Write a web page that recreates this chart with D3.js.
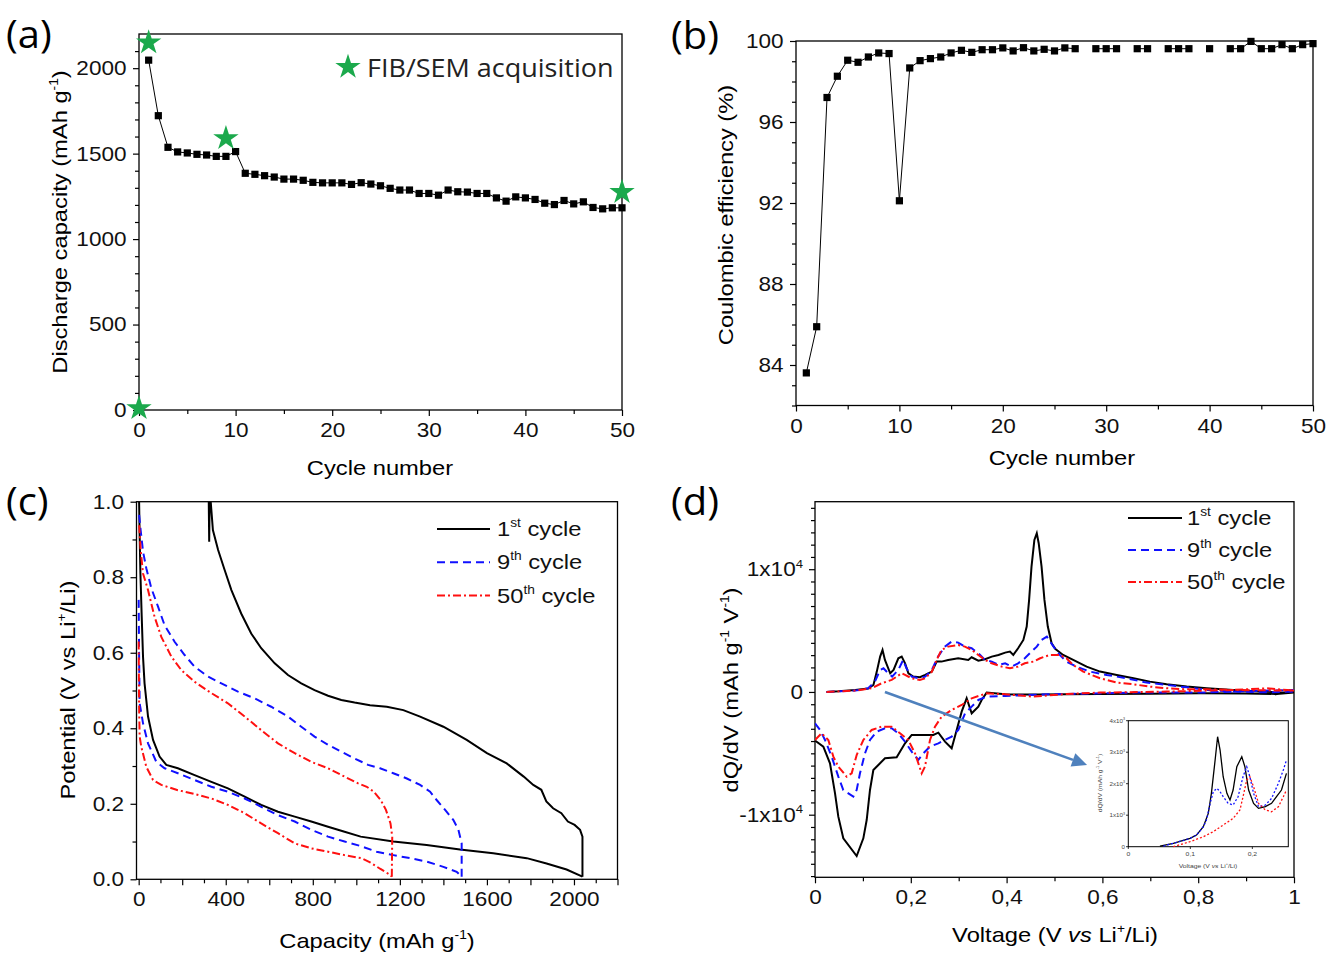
<!DOCTYPE html>
<html><head><meta charset="utf-8">
<script src="https://cdn.jsdelivr.net/npm/d3@7"></script>
<style>body{margin:0;background:#fff}</style>
</head><body>
<svg id="chart" width="1327" height="954"></svg>
<script>
// ---------------- DATA ----------------
// (a) discharge capacity vs cycle
const cyclesA = [1,2,3,4,5,6,7,8,9,10,11,12,13,14,15,16,17,18,19,20,21,22,23,24,25,26,27,28,29,30,31,32,33,34,35,36,37,38,39,40,41,42,43,44,45,46,47,48,49,50];
const capacityA = [2047,1722,1537,1510,1504,1496,1492,1484,1484,1512,1385,1379,1371,1363,1351,1351,1344,1332,1329,1329,1329,1320,1330,1322,1312,1297,1287,1287,1267,1267,1257,1287,1277,1275,1267,1267,1241,1222,1247,1241,1232,1210,1202,1226,1206,1218,1185,1177,1183,1183];
const starCycles = [0,1,9,50];
const starCapacity = [10,2150,1590,1275];
// (b) coulombic efficiency
const cyclesB = cyclesA;
const ceB = [83.61,85.89,97.21,98.26,99.05,98.95,99.21,99.41,99.38,92.11,98.67,99.03,99.13,99.21,99.41,99.54,99.44,99.57,99.57,99.66,99.51,99.67,99.51,99.59,99.51,99.66,99.62,null,99.62,99.62,99.62,null,99.62,99.62,null,99.62,99.62,99.62,null,99.62,null,99.62,99.62,99.98,99.62,99.62,99.82,99.62,99.82,99.87];
// (c) voltage profiles [capacity, potential]
const c1Discharge = [[2,1.0],[4,0.925],[8,0.81],[14,0.695],[20,0.589],[27,0.519],[43,0.431],[66,0.369],[96,0.325],[127,0.303],[180,0.294],[257,0.276],[334,0.258],[410,0.241],[487,0.219],[563,0.197],[640,0.179],[717,0.166],[793,0.153],[870,0.139],[946,0.126],[1020,0.113],[1170,0.100],[1323,0.091],[1476,0.079],[1629,0.069],[1783,0.056],[1874,0.042],[1966,0.026],[2039,0.007]];
const c1Charge = [[2039,0.007],[2039,0.113],[2028,0.131],[2003,0.144],[1972,0.153],[1942,0.175],[1904,0.188],[1873,0.206],[1850,0.237],[1813,0.25],[1769,0.272],[1691,0.307],[1600,0.334],[1507,0.369],[1400,0.404],[1293,0.431],[1216,0.448],[1140,0.457],[1063,0.461],[992,0.468],[931,0.475],[870,0.486],[808,0.501],[747,0.519],[686,0.541],[625,0.572],[563,0.612],[517,0.651],[471,0.704],[426,0.766],[395,0.819],[365,0.872],[341,0.925],[331,1.0],[326,1.0],[324,0.894],[322,1.0]];
const c9Discharge = [[0,0.74],[2,0.59],[4.5,0.466],[20,0.413],[43,0.36],[81,0.311],[119,0.294],[180,0.281],[257,0.263],[334,0.245],[410,0.232],[487,0.214],[563,0.192],[640,0.17],[717,0.153],[793,0.131],[870,0.113],[946,0.1],[1020,0.088],[1093,0.073],[1170,0.064],[1246,0.056],[1323,0.047],[1400,0.033],[1461,0.02],[1484,0.007]];
const c9Charge = [[1484,0.007],[1484,0.095],[1469,0.131],[1446,0.157],[1408,0.184],[1369,0.21],[1339,0.232],[1293,0.25],[1232,0.267],[1170,0.281],[1109,0.294],[1054,0.303],[992,0.32],[931,0.338],[870,0.356],[808,0.378],[747,0.404],[686,0.431],[609,0.457],[533,0.479],[456,0.497],[380,0.519],[318,0.537],[257,0.563],[211,0.594],[165,0.629],[119,0.673],[89,0.722],[58,0.771],[35,0.824],[20,0.868],[9,0.925],[2,0.965]];
const c50Discharge = [[0,0.63],[2,0.457],[4.5,0.378],[12,0.351],[35,0.298],[66,0.263],[104,0.25],[180,0.236],[257,0.226],[334,0.214],[410,0.197],[487,0.175],[563,0.148],[640,0.122],[717,0.095],[793,0.082],[870,0.073],[946,0.064],[1023,0.056],[1063,0.045],[1109,0.028],[1155,0.012],[1163,0.007]];
const c50Charge = [[1163,0.007],[1165,0.113],[1157,0.148],[1136,0.184],[1112,0.21],[1080,0.232],[1048,0.245],[1008,0.254],[946,0.272],[870,0.294],[793,0.311],[717,0.334],[640,0.36],[563,0.395],[487,0.431],[410,0.466],[334,0.493],[257,0.523],[196,0.554],[150,0.59],[104,0.642],[73,0.695],[43,0.766],[20,0.81],[9,0.872],[2,0.94]];
// (d) dQ/dV [voltage, dQ/dV]
const d1Pos = [[0.024,0],[0.049,54],[0.084,163],[0.111,272],[0.122,571],[0.129,1658],[0.136,2880],[0.141,3423],[0.146,2608],[0.157,1521],[0.164,1793],[0.174,2744],[0.181,2880],[0.188,2336],[0.195,1521],[0.205,1250],[0.219,1195],[0.230,1386],[0.244,1658],[0.254,2472],[0.264,2472],[0.278,2608],[0.299,2744],[0.320,2608],[0.327,2825],[0.341,2554],[0.355,2662],[0.369,2880],[0.383,3016],[0.397,3206],[0.407,3287],[0.414,3016],[0.424,3559],[0.435,4238],[0.442,5325],[0.447,7498],[0.452,10215],[0.458,12388],[0.463,12931],[0.467,12116],[0.473,10215],[0.479,7498],[0.486,5325],[0.494,3966],[0.502,3500],[0.518,3016],[0.539,2608],[0.567,2064],[0.595,1658],[0.630,1386],[0.665,1114],[0.699,842],[0.734,624],[0.776,435],[0.818,299],[0.873,163],[0.929,27],[0.955,0],[0.962,-200],[0.968,-60],[1.0,0]];
const d1Neg = [[0,-3966],[0.0174,-4455],[0.0313,-5813],[0.0418,-8259],[0.0487,-10160],[0.0591,-11926],[0.087,-13366],[0.1009,-11926],[0.1079,-10432],[0.1148,-7987],[0.1218,-6357],[0.1322,-5950],[0.1461,-5406],[0.1705,-5325],[0.1879,-4184],[0.2018,-3504],[0.247,-3504],[0.2575,-3314],[0.2714,-4048],[0.2853,-4591],[0.2958,-3097],[0.3062,-1603],[0.3166,-516],[0.3271,-1739],[0.341,-1196],[0.3479,-652],[0.3584,-54],[0.397,-190],[0.466,-217],[0.525,-190],[0.595,-163],[0.70,-140],[0.804,-109],[0.90,-130],[0.964,-163],[1.0,-54]];
const d9Pos = [[0.024,0],[0.084,109],[0.111,299],[0.125,842],[0.136,1793],[0.143,1929],[0.153,1521],[0.161,1250],[0.174,1793],[0.184,2608],[0.191,1929],[0.202,1250],[0.216,1114],[0.230,1250],[0.244,1793],[0.257,2880],[0.271,3695],[0.285,4102],[0.299,4021],[0.313,3695],[0.327,3559],[0.341,3152],[0.355,2608],[0.369,2472],[0.383,2200],[0.397,2336],[0.411,2064],[0.424,2336],[0.438,2744],[0.452,3287],[0.463,3695],[0.473,4238],[0.484,4510],[0.498,3695],[0.511,3016],[0.525,2472],[0.546,2064],[0.574,1657],[0.609,1386],[0.651,1114],[0.692,761],[0.734,571],[0.776,380],[0.818,163],[0.873,27],[0.943,-27],[1.0,27]];
const d9Neg = [[0,-2553],[0.0104,-3097],[0.0209,-3912],[0.0348,-5270],[0.0487,-6900],[0.0591,-7987],[0.0696,-8259],[0.08,-8530],[0.087,-7987],[0.0939,-6629],[0.1044,-4999],[0.1148,-3912],[0.1287,-3233],[0.1461,-2961],[0.1601,-2961],[0.174,-3369],[0.1879,-4048],[0.2018,-4863],[0.2157,-5542],[0.2262,-4999],[0.2401,-4455],[0.2575,-4184],[0.2714,-3912],[0.2853,-3640],[0.2992,-3097],[0.3132,-1739],[0.3271,-1196],[0.341,-652],[0.3584,-380],[0.397,-326],[0.466,-217],[0.525,-163],[0.665,-54],[0.804,-54],[1.0,163]];
const d50Pos = [[0.024,0],[0.084,109],[0.118,299],[0.139,706],[0.160,978],[0.181,1521],[0.188,1386],[0.202,1114],[0.219,978],[0.230,1114],[0.244,1657],[0.254,2608],[0.264,3423],[0.278,3695],[0.299,3830],[0.313,3695],[0.327,3423],[0.341,3016],[0.355,2608],[0.369,2336],[0.390,2064],[0.407,1929],[0.424,2064],[0.438,2336],[0.456,2472],[0.470,2744],[0.490,3016],[0.511,3016],[0.525,2744],[0.539,2200],[0.560,1657],[0.595,1114],[0.630,761],[0.665,624],[0.699,435],[0.734,299],[0.776,217],[0.818,217],[0.873,163],[0.943,299],[1.0,109]];
const d50Neg = [[0,-3912],[0.0139,-3369],[0.0278,-3912],[0.0383,-5270],[0.0487,-6085],[0.0661,-6900],[0.0766,-6629],[0.087,-5135],[0.1009,-3912],[0.1183,-3097],[0.1392,-2825],[0.1601,-2825],[0.1775,-3369],[0.1948,-3912],[0.2088,-4999],[0.2227,-6629],[0.2296,-6085],[0.2401,-3912],[0.2505,-2825],[0.2644,-2010],[0.2853,-1467],[0.3062,-1060],[0.3271,-516],[0.3584,-109],[0.397,-190],[0.456,-380],[0.525,-163],[0.595,-54],[0.734,27],[0.873,163],[1.0,109]];
// (d) inset
const inset1 = [[0.051,21],[0.0726,106],[0.0995,265],[0.110,370],[0.121,635],[0.129,1058],[0.134,1693],[0.140,2751],[0.144,3492],[0.148,3069],[0.153,2222],[0.159,1693],[0.164,1481],[0.169,1799],[0.175,2540],[0.183,2857],[0.188,2540],[0.194,1799],[0.202,1376],[0.210,1217],[0.221,1270],[0.231,1376],[0.239,1587],[0.247,1799],[0.255,2328]];
const inset9 = [[0.0565,21],[0.0726,106],[0.0995,265],[0.110,370],[0.121,635],[0.126,847],[0.132,1376],[0.137,1746],[0.143,1852],[0.148,1746],[0.153,1587],[0.161,1376],[0.169,1323],[0.177,1587],[0.185,2222],[0.191,2540],[0.196,2222],[0.202,1693],[0.210,1270],[0.221,1323],[0.231,1534],[0.242,2011],[0.250,2434],[0.255,2751]];
const inset50 = [[0.0726,0],[0.0995,159],[0.121,317],[0.137,476],[0.153,688],[0.169,899],[0.180,1164],[0.185,1587],[0.191,2116],[0.196,2222],[0.202,1905],[0.210,1376],[0.221,1164],[0.231,1111],[0.242,1270],[0.250,1587],[0.255,1799]];
const arrowFrom = [0.146, 0];
const arrowTo = [0.568, -5950];
// tick values
const ticksA_x = [0,10,20,30,40,50], ticksA_y = [0,500,1000,1500,2000];
const ticksB_y = [84,88,92,96,100];
const ticksC_x = [0,400,800,1200,1600,2000], ticksC_y = [0,0.2,0.4,0.6,0.8,1.0];
const ticksD_x = [0,0.2,0.4,0.6,0.8,1], ticksD_xLabels = ['0','0,2','0,4','0,6','0,8','1'];
const legendLabels = [['1','st'],['9','th'],['50','th']];

// ---------------- DRAWING ----------------
const svg = d3.select('#chart');
svg.append('rect').attr('width',1327).attr('height',954).attr('fill','#fff');
const FONT = '"Liberation Sans", Arial, sans-serif';
const PFONT = '"Open Sans", "Noto Sans", sans-serif';
const SX = 1.13;

function rich(g, x, y, parts, o = {}) {
  const size = o.size || 21, rot = o.rot || 0, sx = o.sx || SX;
  const t = g.append('text')
    .attr('transform', `translate(${x},${y}) rotate(${rot}) scale(${sx},1)`)
    .attr('text-anchor', o.anchor || 'middle')
    .attr('font-family', o.font || FONT)
    .attr('font-size', size).attr('fill', o.fill || '#000');
  if (typeof parts === 'string') parts = [{t: parts}];
  let shift = 0;
  parts.forEach(p => {
    const ts = t.append('tspan').text(p.t);
    let target = 0, fs = size;
    if (p.sup) { fs = size * 0.58; target = -size * 0.42; }
    ts.attr('font-size', fs);
    if (p.it) ts.attr('font-style', 'italic');
    if (target !== shift) { ts.attr('dy', target - shift); shift = target; }
  });
  return t;
}

function axes(g, xs, ys, c) {
  const [x0, x1] = xs.range(), [yb, yt] = ys.range();
  const style = s => {
    s.select('.domain').remove();
    s.selectAll('line').attr('stroke', '#000').attr('stroke-width', 1.2);
    s.selectAll('text').attr('font-family', FONT).attr('font-size', c.fs || 20).attr('fill', '#111')
      .attr('transform', `scale(${SX},1)`);
  };
  g.append('g').attr('transform', `translate(0,${yb})`)
    .call(d3.axisBottom(xs).tickValues(c.xMinor).tickSize(4).tickFormat('')).call(style);
  g.append('g').attr('transform', `translate(0,${yb})`)
    .call(d3.axisBottom(xs).tickValues(c.xMajor).tickSize(6).tickPadding(c.xPad || 7).tickFormat(c.xFmt || (d => d))).call(style);
  g.append('g').attr('transform', `translate(${x0},0)`)
    .call(d3.axisLeft(ys).tickValues(c.yMinor).tickSize(4).tickFormat('')).call(style);
  g.append('g').attr('transform', `translate(${x0},0)`)
    .call(d3.axisLeft(ys).tickValues(c.yMajor).tickSize(6).tickPadding(c.yPad || 5).tickFormat(c.yFmt || (d => d))).call(style);
  g.append('rect').attr('x', x0).attr('y', yt).attr('width', x1 - x0).attr('height', yb - yt)
    .attr('fill', 'none').attr('stroke', '#000').attr('stroke-width', 1.3);
}

function clip(id, xs, ys) {
  const [x0, x1] = xs.range(), [yb, yt] = ys.range();
  svg.append('clipPath').attr('id', id).append('rect')
    .attr('x', x0).attr('y', yt).attr('width', x1 - x0).attr('height', yb - yt);
}

// panel labels
[['(a)', 6, 48], ['(b)', 671, 49], ['(c)', 6, 515], ['(d)', 671, 515]].forEach(([t, x, y]) =>
  rich(svg, x, y, t, {size: 38, anchor: 'start', font: PFONT, sx: 1.05}));

// ===== (a) =====
const xa = d3.scaleLinear().domain([0, 50]).range([139, 622]);
const ya = d3.scaleLinear().domain([0, 2200]).range([410, 34]);
const ga = svg.append('g');
axes(ga, xa, ya, {xMajor: ticksA_x, xMinor: [5,15,25,35,45], yMajor: ticksA_y,
  yMinor: d3.range(100, 2200, 100).filter(v => v % 500), xPad: 7});
const dataA = cyclesA.map((c, i) => [c, capacityA[i]]);
ga.append('path').datum(dataA).attr('fill', 'none').attr('stroke', '#000').attr('stroke-width', 1)
  .attr('d', d3.line().x(d => xa(d[0])).y(d => ya(d[1])));
ga.selectAll('rect.m').data(dataA).enter().append('rect').attr('class', 'm')
  .attr('x', d => xa(d[0]) - 3.6).attr('y', d => ya(d[1]) - 3.6).attr('width', 7.2).attr('height', 7.2).attr('fill', '#000');
const star = d3.symbol(d3.symbolStar).size(200);
const GREEN = '#1ba94c';
ga.selectAll('path.s').data(starCycles.map((c, i) => [c, starCapacity[i]])).enter().append('path').attr('class', 's')
  .attr('d', star).attr('fill', GREEN).attr('transform', d => `translate(${xa(d[0])},${ya(d[1])})`);
ga.append('path').attr('d', star).attr('fill', GREEN).attr('transform', 'translate(348,67)');
rich(ga, 367, 77, 'FIB/SEM acquisition', {size: 25, anchor: 'start', font: PFONT, fill: '#222', sx: 1.08});
rich(ga, 380, 475, 'Cycle number', {size: 21});
rich(ga, 67, 222, [{t: 'Discharge capacity (mAh g'}, {t: '-1', sup: true}, {t: ')'}], {size: 21, rot: -90});

// ===== (b) =====
const xb = d3.scaleLinear().domain([0, 50]).range([796, 1313]);
const yb = d3.scaleLinear().domain([82, 100]).range([405.5, 41]);
const gb = svg.append('g');
axes(gb, xb, yb, {xMajor: ticksA_x, xMinor: [5,15,25,35,45], yMajor: ticksB_y,
  yMinor: d3.range(82, 100, 1).filter(v => v % 4), xPad: 7});
const dataB = cyclesB.map((c, i) => [c, ceB[i]]);
gb.append('path').datum(dataB).attr('fill', 'none').attr('stroke', '#000').attr('stroke-width', 1)
  .attr('d', d3.line().defined(d => d[1] != null).x(d => xb(d[0])).y(d => yb(d[1])));
gb.selectAll('rect.m').data(dataB.filter(d => d[1] != null)).enter().append('rect').attr('class', 'm')
  .attr('x', d => xb(d[0]) - 3.6).attr('y', d => yb(d[1]) - 3.6).attr('width', 7.2).attr('height', 7.2).attr('fill', '#000');
rich(gb, 1062, 465, 'Cycle number', {size: 21});
rich(gb, 733, 215, 'Coulombic efficiency (%)', {size: 21, rot: -90});

// ===== (c) =====
const xc = d3.scaleLinear().domain([-10, 2200]).range([136.5, 617.5]);
const yc = d3.scaleLinear().domain([0, 1]).range([879.3, 501.7]);
const gc = svg.append('g');
axes(gc, xc, yc, {xMajor: d3.range(0, 2201, 200), xMinor: d3.range(100, 2200, 200),
  xFmt: d => (ticksC_x.includes(d) ? d : ''), yMajor: ticksC_y, yMinor: [0.1,0.3,0.5,0.7,0.9],
  yFmt: d3.format('.1f'), xPad: 7});
clip('clipc', xc, yc);
const lineC = d3.line().x(d => xc(d[0])).y(d => yc(d[1]));
const STY = [
  {stroke: '#000', dash: null},
  {stroke: '#1010ff', dash: '8,5'},
  {stroke: '#ff1010', dash: '8,3,2,3'}
];
const cg = gc.append('g').attr('clip-path', 'url(#clipc)');
[[c1Discharge, c1Charge], [c9Discharge, c9Charge], [c50Discharge, c50Charge]].forEach((arrs, i) => {
  arrs.forEach(a => cg.append('path').datum(a).attr('fill', 'none').attr('stroke', STY[i].stroke)
    .attr('stroke-width', 2).attr('stroke-dasharray', STY[i].dash).attr('d', lineC));
});
legendLabels.forEach((l, i) => {
  const y = 529 + i * 33.3;
  gc.append('line').attr('x1', 437).attr('x2', 490).attr('y1', y).attr('y2', y)
    .attr('stroke', STY[i].stroke).attr('stroke-width', 2).attr('stroke-dasharray', STY[i].dash);
  rich(gc, 497, y + 7, [{t: l[0]}, {t: l[1], sup: true}, {t: ' cycle'}], {size: 21, anchor: 'start', fill: '#111'});
});
rich(gc, 377, 948, [{t: 'Capacity (mAh g'}, {t: '-1', sup: true}, {t: ')'}], {size: 21});
rich(gc, 75, 690, [{t: 'Potential (V vs Li'}, {t: '+', sup: true}, {t: '/Li)'}], {size: 21, rot: -90});

// ===== (d) =====
const xd = d3.scaleLinear().domain([0, 1]).range([815, 1294]);
const yd = d3.scaleLinear().domain([-15100, 15500]).range([877.3, 501.7]);
const gd = svg.append('g');
axes(gd, xd, yd, {xMajor: ticksD_x, xMinor: [0.1,0.3,0.5,0.7,0.9],
  xFmt: d => ticksD_xLabels[ticksD_x.indexOf(d)], yMajor: [-10000, 0, 10000],
  yMinor: d3.range(-15000, 15001, 1000).filter(v => v % 10000), yFmt: () => '', xPad: 7});
[[10000, [{t: '1x10'}, {t: '4', sup: true}]], [0, '0'], [-10000, [{t: '-1x10'}, {t: '4', sup: true}]]]
  .forEach(([v, p]) => rich(gd, 803, yd(v) + 7, p, {size: 20, anchor: 'end', fill: '#111'}));
clip('clipd', xd, yd);
const lineD = d3.line().x(d => xd(d[0])).y(d => yd(d[1]));
const dg = gd.append('g').attr('clip-path', 'url(#clipd)');
[[d1Pos, d1Neg], [d9Pos, d9Neg], [d50Pos, d50Neg]].forEach((arrs, i) => {
  arrs.forEach(a => dg.append('path').datum(a).attr('fill', 'none').attr('stroke', STY[i].stroke)
    .attr('stroke-width', 2).attr('stroke-dasharray', STY[i].dash).attr('d', lineD));
});
legendLabels.forEach((l, i) => {
  const y = 518 + i * 32;
  gd.append('line').attr('x1', 1128).attr('x2', 1182).attr('y1', y).attr('y2', y)
    .attr('stroke', STY[i].stroke).attr('stroke-width', 2).attr('stroke-dasharray', STY[i].dash);
  rich(gd, 1187, y + 7, [{t: l[0]}, {t: l[1], sup: true}, {t: ' cycle'}], {size: 21, anchor: 'start', fill: '#111'});
});
rich(gd, 1055, 942, [{t: 'Voltage (V '}, {t: 'vs', it: true}, {t: ' Li'}, {t: '+', sup: true}, {t: '/Li)'}], {size: 21});
rich(gd, 738, 690, [{t: 'dQ/dV (mAh g'}, {t: '-1', sup: true}, {t: ' V'}, {t: '-1', sup: true}, {t: ')'}], {size: 21, rot: -90});

// arrow
const ARC = '#4f81bd';
const ax0 = xd(arrowFrom[0]), ay0 = yd(arrowFrom[1]), ax1 = xd(arrowTo[0]), ay1 = yd(arrowTo[1]);
const ang = Math.atan2(ay1 - ay0, ax1 - ax0);
const hl = 15, hw = 7;
const bx = ax1 - hl * Math.cos(ang), by = ay1 - hl * Math.sin(ang);
gd.append('line').attr('x1', ax0).attr('y1', ay0).attr('x2', bx).attr('y2', by).attr('stroke', ARC).attr('stroke-width', 2.6);
gd.append('path').attr('fill', ARC).attr('d',
  `M${ax1},${ay1}L${bx + hw * Math.sin(ang)},${by - hw * Math.cos(ang)}L${bx - hw * Math.sin(ang)},${by + hw * Math.cos(ang)}Z`);

// inset
const xi = d3.scaleLinear().domain([0, 0.258]).range([1128.3, 1288.3]);
const yi = d3.scaleLinear().domain([0, 4000]).range([846.7, 720.7]);
const gi = svg.append('g');
gi.append('rect').attr('x', 1128.3).attr('y', 720.7).attr('width', 160).attr('height', 126).attr('fill', '#fff')
  .attr('stroke', '#000').attr('stroke-width', 1);
const lineI = d3.line().x(d => xi(d[0])).y(d => yi(d[1]));
[[inset1, '#000', null], [inset9, '#1010ff', '2,2'], [inset50, '#ff1010', '2,2']].forEach(([a, c, ds]) =>
  gi.append('path').datum(a).attr('fill', 'none').attr('stroke', c).attr('stroke-width', 1.3)
    .attr('stroke-dasharray', ds).attr('d', lineI));
[0, 0.1, 0.2].forEach((v, i) => {
  gi.append('line').attr('x1', xi(v)).attr('x2', xi(v)).attr('y1', 846.7).attr('y2', 849).attr('stroke', '#000').attr('stroke-width', 0.8);
  rich(gi, xi(v), 856, ['0', '0,1', '0,2'][i], {size: 6, fill: '#444'});
});
[0, 1000, 2000, 3000, 4000].forEach(v => {
  gi.append('line').attr('x1', 1126).attr('x2', 1128.3).attr('y1', yi(v)).attr('y2', yi(v)).attr('stroke', '#000').attr('stroke-width', 0.8);
  rich(gi, 1125, yi(v) + 2, v === 0 ? '0' : [{t: (v / 1000) + 'x10'}, {t: '3', sup: true}], {size: 5.5, anchor: 'end', fill: '#444'});
});
rich(gi, 1208, 868, [{t: 'Voltage (V '}, {t: 'vs', it: true}, {t: ' Li'}, {t: '+', sup: true}, {t: '/Li)'}], {size: 6, fill: '#444'});
rich(gi, 1102, 783, [{t: 'dQ/dV (mAh g'}, {t: '-1', sup: true}, {t: ' V'}, {t: '-1', sup: true}, {t: ')'}], {size: 6, rot: -90, fill: '#444'});
</script>
</body></html>
